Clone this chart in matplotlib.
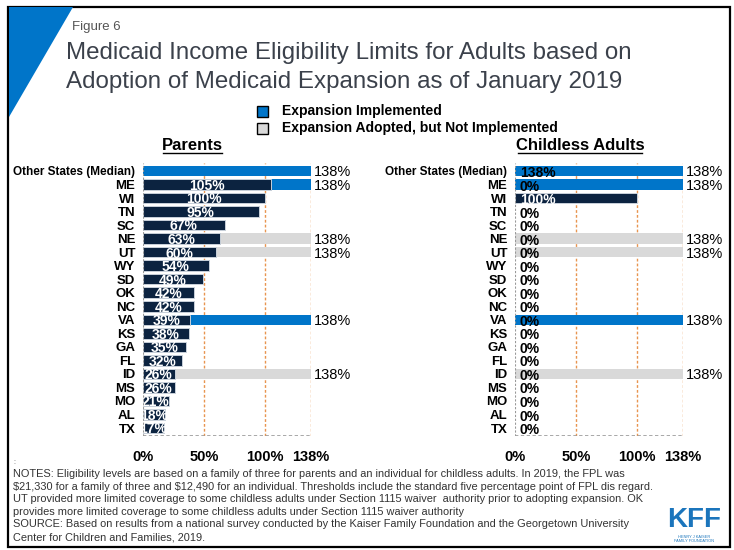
import matplotlib
matplotlib.use("Agg")
import matplotlib.pyplot as plt
from matplotlib.lines import Line2D
from matplotlib.patches import Polygon, Rectangle

plt.rcParams['font.family'] = ['Liberation Sans', 'DejaVu Sans']

# Medicaid eligibility limits (% FPL), January 2019
states = ['Other States (Median)', 'ME', 'WI', 'TN', 'SC', 'NE', 'UT', 'WY', 'SD', 'OK',
          'NC', 'VA', 'KS', 'GA', 'FL', 'ID', 'MS', 'MO', 'AL', 'TX']
parents = [138, 105, 100, 95, 67, 63, 60, 54, 49, 42,
           42, 39, 38, 35, 32, 26, 26, 21, 18, 17]
childless = [138, 0, 100, 0, 0, 0, 0, 0, 0, 0,
             0, 0, 0, 0, 0, 0, 0, 0, 0, 0]
# 'impl' = expansion implemented, 'adopt' = adopted but not implemented
status = ['impl', 'impl', None, None, None, 'adopt', 'adopt', None, None, None,
          None, 'impl', None, None, None, 'adopt', None, None, None, None]
xticks = [0, 50, 100, 138]
xtick_labels = ['0%', '50%', '100%', '138%']

NAVY = '#0c2340'
BLUE = '#0075c9'
GRAY = '#d9d9d9'
ORANGE = '#e8944f'
W, H = 734, 550


def fx(x):
    return x / W


def fy(y):
    return 1 - y / H


fig = plt.figure(figsize=(W / 100, H / 100), dpi=100)

# frame and corner accent
fig.add_artist(Rectangle((fx(8), fy(547)), fx(722), 540 / H, transform=fig.transFigure,
                         fill=False, edgecolor='black', linewidth=1.6))
fig.add_artist(Polygon([(fx(9), fy(7)), (fx(73), fy(7)), (fx(9), fy(117))],
                       closed=True, transform=fig.transFigure, color=BLUE, linewidth=0))

fig.text(fx(72), fy(27), 'Figure 6', fontsize=9.5, color='#555555', va='center')
fig.text(fx(66), fy(53), 'Medicaid Income Eligibility Limits for Adults based on',
         fontsize=17.4, color='#3b414b', va='center')
fig.text(fx(66), fy(82), 'Adoption of Medicaid Expansion as of January 2019',
         fontsize=17.4, color='#3b414b', va='center')

# legend
for yy, col, lab in [(111, BLUE, 'Expansion Implemented'),
                     (128, GRAY, 'Expansion Adopted, but Not Implemented')]:
    fig.add_artist(Rectangle((fx(257), fy(yy + 6)), fx(11), 11 / H, transform=fig.transFigure,
                             facecolor=col, edgecolor='black', linewidth=1))
    fig.text(fx(282), fy(yy), lab, fontsize=10, fontweight='bold', va='center')


def panel(left, values, title, title_x, title_w):
    ax = fig.add_axes([fx(left), 114 / H, 168 / W, 273 / H])
    n = len(states)
    for i in range(n):
        v = values[i]
        if status[i] == 'impl':
            ax.barh(i, 138, height=0.78, color=BLUE, zorder=2)
        elif status[i] == 'adopt':
            ax.barh(i, 138, height=0.78, color=GRAY, zorder=2)
        if i > 0 and v > 0:
            ax.barh(i, v, height=0.78, color=NAVY, edgecolor='#c9d1da', linewidth=0.7, zorder=3)
        if status[i] is not None:
            ax.text(140, i + 0.1, '138%', fontsize=10.5, va='center', ha='left', zorder=4,
                    clip_on=False)
    ax.set_xlim(0, 138)
    ax.set_ylim(n - 0.41, -0.59)
    for g in xticks[1:]:
        ax.axvline(g, color=ORANGE, linestyle=(0, (2, 1.5)), linewidth=1, zorder=1)
    ax.axvline(0, color='#999999', linestyle=(0, (2, 1.5)), linewidth=0.8, zorder=5)
    ax.axhline(n - 0.41, color='#999999', linestyle=(0, (2, 1.5)), linewidth=1.2, zorder=5)
    for s in ax.spines.values():
        s.set_visible(False)
    ax.set_xticks(xticks)
    ax.set_xticklabels(xtick_labels, fontsize=10.5, fontweight='bold')
    ax.set_yticks(range(n))
    ax.set_yticklabels(states, fontweight='bold')
    for k, t in enumerate(ax.get_yticklabels()):
        t.set_fontsize(8.5 if k == 0 else 9.5)
    ax.tick_params(length=0)
    ax.tick_params(axis='x', pad=10)
    ax.tick_params(axis='y', pad=5.5)
    fig.text(fx(title_x), fy(146), title, fontsize=12, fontweight='bold',
             ha='center', va='center')
    fig.add_artist(Line2D([fx(title_x - title_w / 2), fx(title_x + title_w / 2)],
                          [fy(153), fy(153)], transform=fig.transFigure,
                          color='black', linewidth=1))
    return ax


ax1 = panel(143, parents, 'Parents', 192.5, 59)
for i, v in enumerate(parents):
    if i > 0:
        ax1.text(v / 2, i + 0.1, f'{v}%', color='white', fontsize=10, fontweight='bold',
                 ha='center', va='center', zorder=4)

ax2 = panel(515, childless, 'Childless Adults', 580, 124)
for i, v in enumerate(childless):
    col = 'white' if (i > 0 and v > 0) else 'black'
    ax2.text(4, i + 0.15, f'{v}%', color=col, fontsize=10, fontweight='bold',
             ha='left', va='center', zorder=4)

fig.text(fx(13), fy(462), ':', fontsize=5, color='#555555', va='center')
notes = [
    'NOTES: Eligibility levels are based on a family of three for parents and an individual for childless adults. In 2019, the FPL was',
    r'\$21,330 for a family of three and \$12,490 for an individual. Thresholds include the standard five percentage point of FPL dis regard.',
    'UT provided more limited coverage to some childless adults under Section 1115 waiver  authority prior to adopting expansion. OK',
    'provides more limited coverage to some childless adults under Section 1115 waiver authority',
    'SOURCE: Based on results from a national survey conducted by the Kaiser Family Foundation and the Georgetown University',
    'Center for Children and Families, 2019.',
]
for k, line in enumerate(notes):
    fig.text(fx(13), fy(474 + k * 12.6), line, fontsize=7.9,
             family=['Liberation Sans Narrow', 'Liberation Sans'], color='#333333', va='center')

# KFF mark
fig.text(fx(694), fy(527), 'KFF', fontsize=20, fontweight='bold', color='#1b75bc',
         family=['Liberation Sans Narrow', 'Liberation Sans'], ha='center', va='baseline')
fig.text(fx(694), fy(539), 'HENRY J KAISER\nFAMILY FOUNDATION', fontsize=2.8, color='#1b75bc',
         ha='center', va='center', linespacing=1.1)

fig.savefig('out.png', dpi=100)
